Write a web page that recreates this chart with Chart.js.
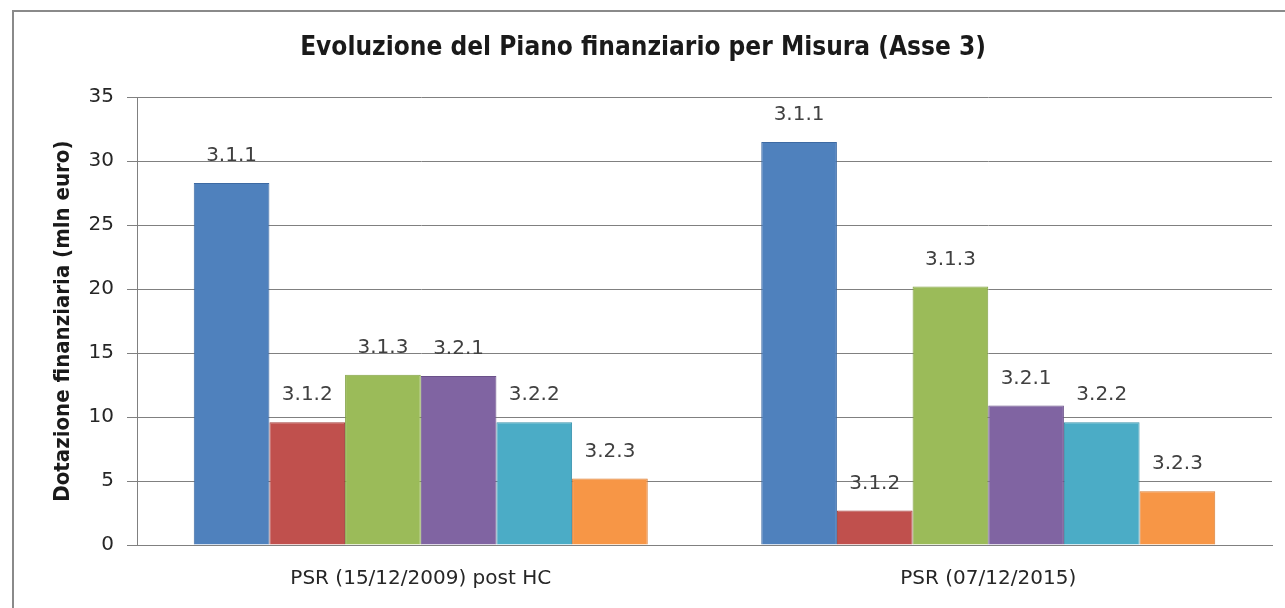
<!DOCTYPE html>
<html>
<head>
<meta charset="utf-8">
<script src="https://cdn.jsdelivr.net/npm/chart.js@4.4.1/dist/chart.umd.min.js"></script>
<style>
  html, body { margin: 0; padding: 0; background: #ffffff; overflow: hidden; }
  #frame { position: absolute; left: 12px; top: 10px; width: 1290px; height: 620px; border: 2px solid #8a8a8a; box-sizing: border-box; }
  #wrap { position: absolute; left: 0; top: 0; width: 1285px; height: 608px; }
</style>
</head>
<body>
<div id="frame"></div>
<div id="wrap"><canvas id="c" width="1285" height="608"></canvas></div>
<script>
const categories = ["PSR (15/12/2009) post HC", "PSR (07/12/2015)"];
const seriesNames = ["3.1.1", "3.1.2", "3.1.3", "3.2.1", "3.2.2", "3.2.3"];
const s311 = [28.3, 31.5];
const s312 = [9.6, 2.7];
const s313 = [13.3, 20.2];
const s321 = [13.2, 10.9];
const s322 = [9.6, 9.6];
const s323 = [5.2, 4.2];
const yTicks = [0, 5, 10, 15, 20, 25, 30, 35];
const colors = ["#4F81BD", "#C0504D", "#9BBB59", "#8064A2", "#4BACC6", "#F79646"];
const borders = ["#3d6aa3", "#a43f3c", "#82a244", "#6a5189", "#3a94ad", "#d97c33"];
const seriesValues = [s311, s312, s313, s321, s322, s323];

const labelPlugin = {
  id: 'barLabels',
  afterDatasetsDraw(chart) {
    const ctx = chart.ctx;
    ctx.save();
    ctx.font = '20px "DejaVu Sans", sans-serif';
    ctx.fillStyle = '#404040';
    ctx.textAlign = 'center';
    ctx.textBaseline = 'middle';
    chart.data.datasets.forEach((ds, i) => {
      const meta = chart.getDatasetMeta(i);
      meta.data.forEach((bar) => {
        ctx.fillText(ds.label, bar.x, bar.y - 27);
      });
    });
    ctx.restore();
  }
};

new Chart(document.getElementById('c'), {
  type: 'bar',
  data: {
    labels: categories,
    datasets: seriesNames.map((n, i) => ({
      label: n,
      data: seriesValues[i],
      backgroundColor: colors[i],
      borderColor: borders[i],
      borderWidth: 1,
      categoryPercentage: 0.8,
      barPercentage: 1.0
    }))
  },
  options: {
    responsive: false,
    animation: false,
    devicePixelRatio: 1,
    layout: { padding: { left: 14, right: 13, top: 0, bottom: 0 } },
    plugins: {
      legend: { display: false },
      tooltip: { enabled: false },
      title: {
        display: true,
        text: 'Evoluzione del Piano finanziario per Misura (Asse 3)',
        color: '#1a1a1a',
        font: { family: '"DejaVu Sans Condensed", "DejaVu Sans", sans-serif', size: 26, weight: 'bold' },
        padding: { top: 33, bottom: 33 }
      }
    },
    scales: {
      x: {
        grid: { display: false, drawTicks: false },
        border: { display: true, color: '#808080', width: 1 },
        ticks: {
          color: '#262626',
          padding: 22,
          font: { family: '"DejaVu Sans", sans-serif', size: 20 }
        },
        afterFit(scale) { scale.height = 63; }
      },
      y: {
        min: 0,
        max: 35,
        afterBuildTicks(scale) { scale.ticks = yTicks.map(v => ({ value: v })); },
        grid: { color: '#808080', lineWidth: 1, tickLength: 10, drawTicks: true },
        border: { display: true, color: '#808080', width: 1 },
        ticks: {
          color: '#262626',
          padding: 13,
          font: { family: '"DejaVu Sans", sans-serif', size: 20 }
        },
        title: {
          display: true,
          text: 'Dotazione finanziaria (mln euro)',
          color: '#1a1a1a',
          font: { family: '"DejaVu Sans Condensed", "DejaVu Sans", sans-serif', size: 22, weight: 'bold' },
          padding: { top: 36, bottom: 0 }
        },
        afterFit(scale) { scale.width = 123; }
      }
    }
  },
  plugins: [labelPlugin]
});
</script>
</body>
</html>
